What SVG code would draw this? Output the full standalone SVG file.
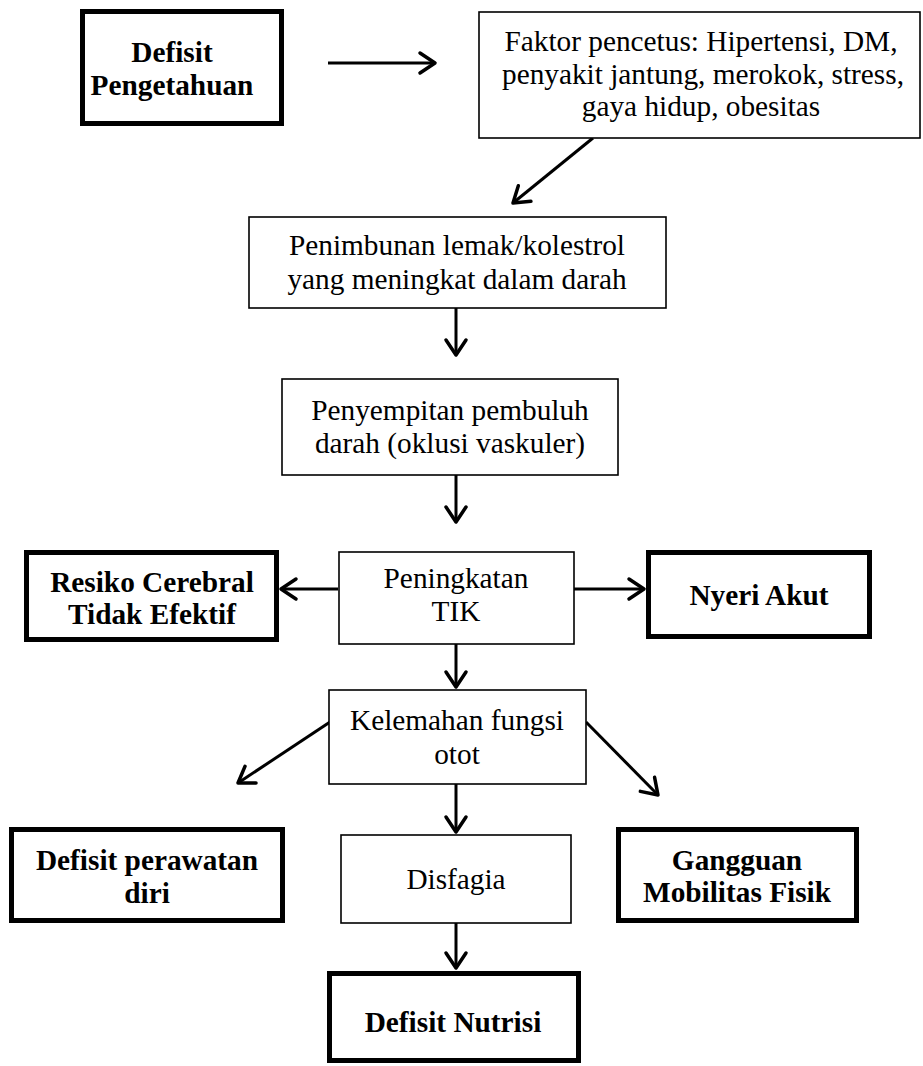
<svg xmlns="http://www.w3.org/2000/svg" width="923" height="1066" viewBox="0 0 923 1066">
<style>
.thin{fill:#fff;stroke:#000;stroke-width:1.6}
.thick{fill:#fff;stroke:#000;stroke-width:5}
.t{font-family:"Liberation Serif","Times New Roman",serif;font-size:29.3px;fill:#000;text-anchor:middle}
.b{font-weight:bold}
.c{fill:none;stroke:#000;stroke-width:3;marker-end:url(#ah)}
</style>
<defs>
<marker id="ah" markerUnits="userSpaceOnUse" markerWidth="40" markerHeight="40" refX="0" refY="0" orient="auto" overflow="visible" viewBox="-20 -20 40 40">
<path d="M-15,-10 L0,0 L-15,10" fill="none" stroke="#000" stroke-width="3.5" stroke-linejoin="round" stroke-linecap="round"/>
</marker>
</defs>
<rect width="923" height="1066" fill="#fff"/>
<g id="connectors">
<path class="c" d="M328,63 L435,63"/>
<path class="c" d="M593,138 L513,203"/>
<path class="c" d="M456,308 L456,355"/>
<path class="c" d="M456,475 L456,522"/>
<path class="c" d="M338,589 L281,589"/>
<path class="c" d="M574,589 L644,589"/>
<path class="c" d="M456,644 L456,687"/>
<path class="c" d="M330,722 L238,783"/>
<path class="c" d="M586,722 L658,795"/>
<path class="c" d="M456,784 L456,832"/>
<path class="c" d="M456,923 L456,968"/>
</g>
<g id="defisit-pengetahuan">
<rect class="thick" x="82.5" y="11.5" width="199" height="112"/>
<text class="t b" x="172" y="62">Defisit</text>
<text class="t b" x="172" y="95">Pengetahuan</text>
</g>
<g id="faktor-pencetus">
<rect class="thin" x="479" y="12" width="441" height="126"/>
<text class="t" x="701" y="51">Faktor pencetus: Hipertensi, DM,</text>
<text class="t" x="703" y="84">penyakit jantung, merokok, stress,</text>
<text class="t" x="701" y="116">gaya hidup, obesitas</text>
</g>
<g id="penimbunan">
<rect class="thin" x="249" y="217" width="417" height="91"/>
<text class="t" x="457" y="255">Penimbunan lemak/kolestrol</text>
<text class="t" x="457" y="289">yang meningkat dalam darah</text>
</g>
<g id="penyempitan">
<rect class="thin" x="282" y="379" width="336" height="96"/>
<text class="t" x="450" y="420">Penyempitan pembuluh</text>
<text class="t" x="450" y="453">darah (oklusi vaskuler)</text>
</g>
<g id="peningkatan-tik">
<rect class="thin" x="339" y="552" width="235" height="92"/>
<text class="t" x="456" y="588">Peningkatan</text>
<text class="t" x="456" y="621">TIK</text>
</g>
<g id="resiko-cerebral">
<rect class="thick" x="26.5" y="552.5" width="250" height="87"/>
<text class="t b" x="152" y="592">Resiko Cerebral</text>
<text class="t b" x="152" y="624">Tidak Efektif</text>
</g>
<g id="nyeri-akut">
<rect class="thick" x="648.5" y="552.5" width="221" height="84"/>
<text class="t b" x="759" y="605">Nyeri Akut</text>
</g>
<g id="kelemahan">
<rect class="thin" x="329" y="690" width="257" height="94"/>
<text class="t" x="457" y="730">Kelemahan fungsi</text>
<text class="t" x="457" y="764">otot</text>
</g>
<g id="defisit-perawatan">
<rect class="thick" x="11.5" y="829.5" width="271" height="91"/>
<text class="t b" x="147" y="870">Defisit perawatan</text>
<text class="t b" x="147" y="903">diri</text>
</g>
<g id="disfagia">
<rect class="thin" x="341" y="835" width="230" height="88"/>
<text class="t" x="456" y="889">Disfagia</text>
</g>
<g id="gangguan-mobilitas">
<rect class="thick" x="618.5" y="829.5" width="238" height="91"/>
<text class="t b" x="737" y="870">Gangguan</text>
<text class="t b" x="737" y="902">Mobilitas Fisik</text>
</g>
<g id="defisit-nutrisi">
<rect class="thick" x="329.5" y="973.5" width="249" height="87"/>
<text class="t b" x="453" y="1032">Defisit Nutrisi</text>
</g>
</svg>
